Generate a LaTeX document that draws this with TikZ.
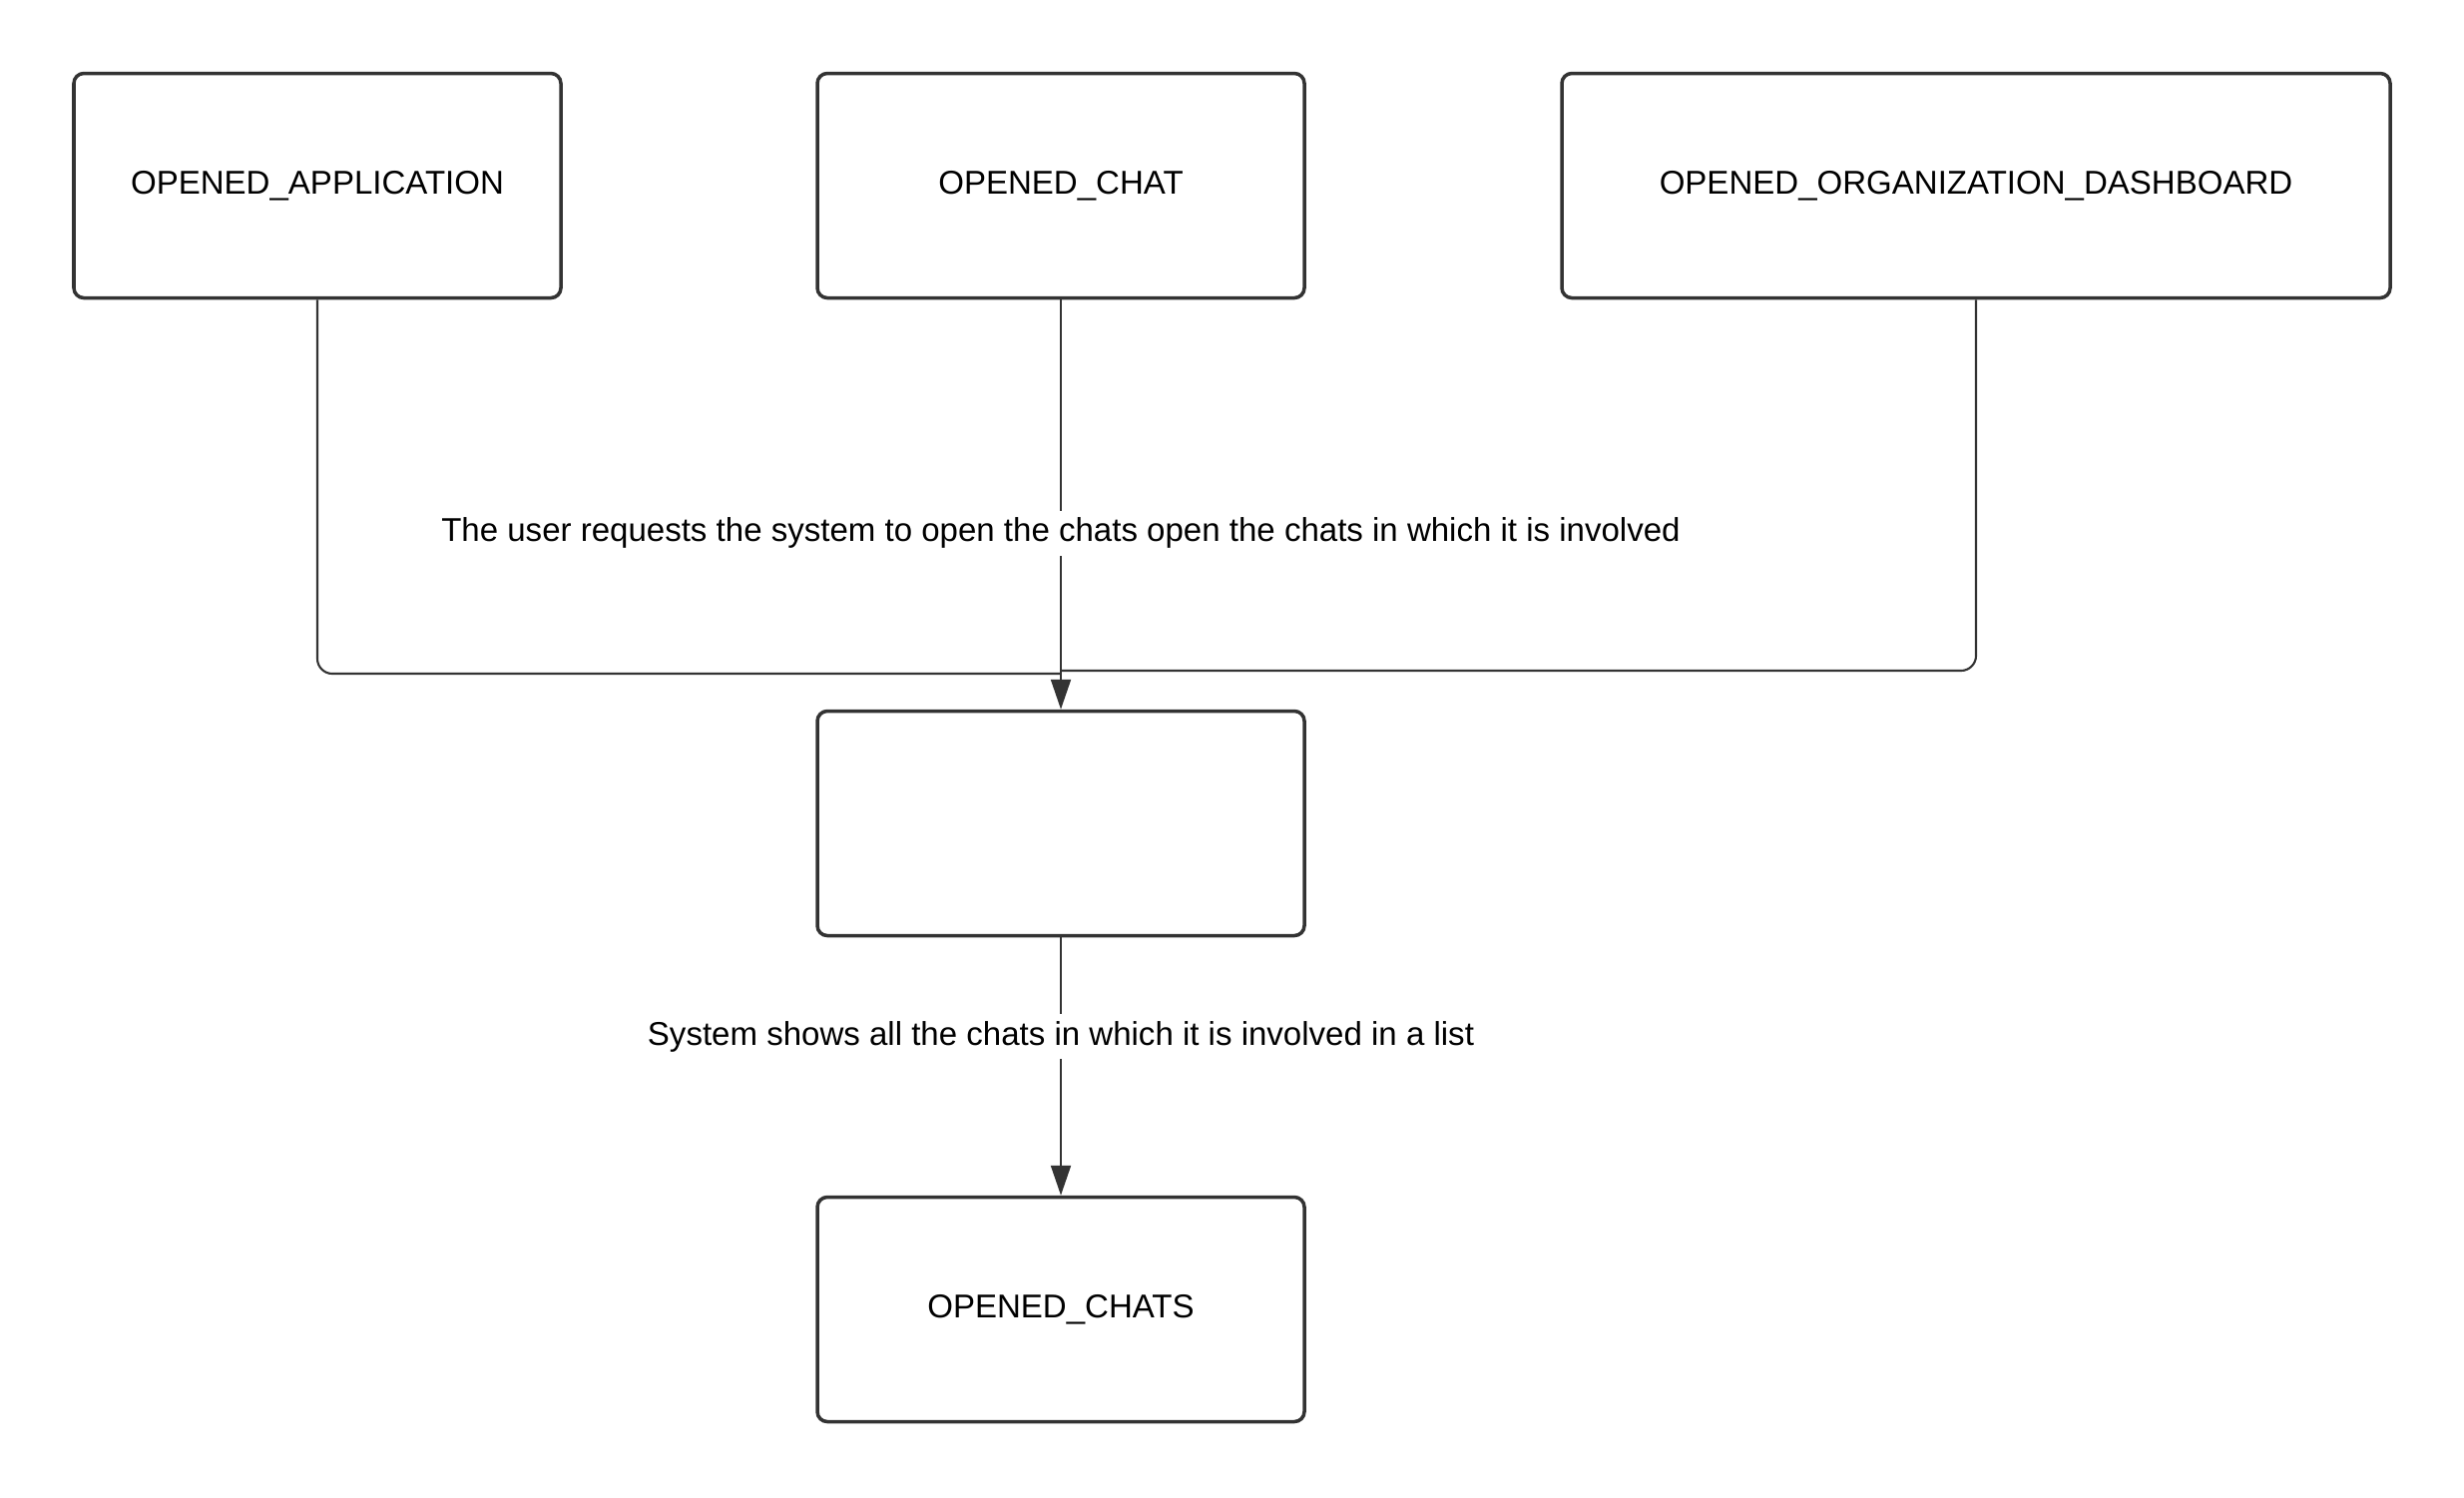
\documentclass[tikz,border=0pt]{standalone}
\usepackage{fontspec}
\setmainfont{Liberation Sans}
\usetikzlibrary{arrows.meta}

\tikzset{
    state/.style={draw=black!80, line width=1pt, rounded corners=0.1cm, minimum height=2.25cm, inner sep=0pt, font=\fontsize{9.4}{11}\selectfont},
    link/.style={draw=black!80, line width=0.6pt},
    arrow/.style={link, -{Triangle[length=0.3cm,width=0.2cm]}},
    says/.style={fill=white, inner sep=2pt, font=\fontsize{9.4}{11}\selectfont}
}

\begin{document}
\begin{tikzpicture}
    %% Fix the page to the size of the picture
    \useasboundingbox (0,0) rectangle (24.69,-15);
    %% The three places the user can start from
    \node[state, minimum width=4.88cm] (app) at (3.18,-1.86) {OPENED\_APPLICATION};
    \node[state, minimum width=4.88cm] (chat) at (10.63,-1.86) {OPENED\_CHAT};
    \node[state, minimum width=8.30cm] (dash) at (19.80,-1.86) {OPENED\_ORGANIZATION\_DASHBOARD};
    %% The empty step in the middle and the end state
    \node[state, minimum width=4.88cm] (mid) at (10.63,-8.25) {};
    \node[state, minimum width=4.88cm] (chats) at (10.63,-13.12) {OPENED\_CHATS};
    %% Points where the side lines meet the middle line
    \coordinate (joinL) at (10.63,-6.75);
    \coordinate (joinR) at (10.63,-6.72);
    %% Side lines, with round corners
    \draw[link, rounded corners=0.15cm] (app.south) |- (joinL);
    \draw[link, rounded corners=0.15cm] (dash.south) |- (joinR);
    %% Middle line and the arrow down to the list
    \draw[arrow] (chat.south) -- node[says, pos=0.57] {The user requests the system to open the chats open the chats in which it is involved} (mid.north);
    \draw[arrow] (mid.south) -- node[says, pos=0.384] {System shows all the chats in which it is involved in a list} (chats.north);
\end{tikzpicture}
\end{document}
